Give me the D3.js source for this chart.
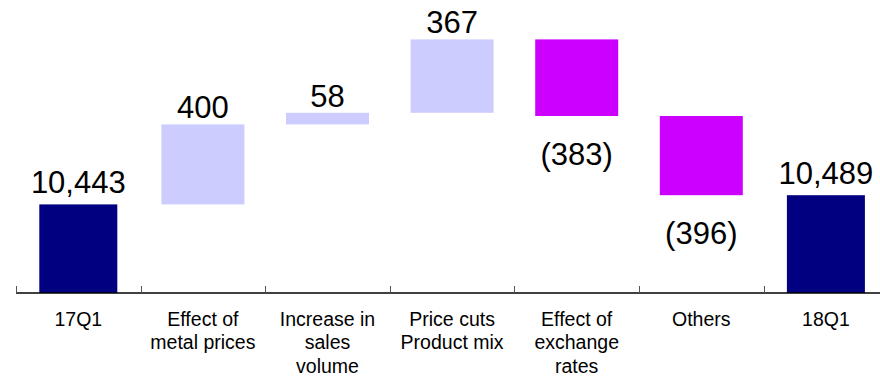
<!DOCTYPE html>
<html>
<head>
<meta charset="utf-8">
<script src="https://cdn.jsdelivr.net/npm/d3@7/dist/d3.min.js"></script>
<style>
  html, body { margin: 0; padding: 0; background: #ffffff; }
  svg { display: block; font-family: "Liberation Sans", Arial, sans-serif; }
</style>
</head>
<body>
<svg id="chart" width="880" height="377"></svg>
<script>
// Quarter-on-quarter bridge: opening total, changes, closing total
const categories = [
  ["17Q1"],
  ["Effect of", "metal prices"],
  ["Increase in", "sales", "volume"],
  ["Price cuts", "Product mix"],
  ["Effect of", "exchange", "rates"],
  ["Others"],
  ["18Q1"]
];
const values = [10443, 400, 58, 367, -383, -396, 10489];
const kinds = ["total", "change", "change", "change", "change", "change", "total"];
const yDomain = [10000, 11465];

const colors = { total: "#000080", up: "#CCCCFF", down: "#CC00FF" };

const svg = d3.select("#chart");
const axisY = 293;

const x = d3.scaleBand()
  .domain(d3.range(categories.length))
  .range([16, 16 + 7 * 124.6])
  .paddingInner(0).paddingOuter(0);

const y = d3.scaleLinear().domain(yDomain).range([axisY, 0]);

// Running levels for the floating bars
let level = 0;
const bars = values.map((v, i) => {
  let lo, hi;
  if (kinds[i] === "total") { lo = yDomain[0]; hi = v; level = v; }
  else { const start = level; level += v; lo = Math.min(start, level); hi = Math.max(start, level); }
  return { i, v, kind: kinds[i], lo, hi };
});

const fmt = d3.format(",");
const bw = x.bandwidth();

svg.append("g").selectAll("rect")
  .data(bars)
  .join("rect")
  .attr("x", d => x(d.i) + bw / 2 - (d.kind === "total" ? 0.626 : 0.666) * bw / 2)
  .attr("width", d => (d.kind === "total" ? 0.626 : 0.666) * bw)
  .attr("y", d => y(d.hi))
  .attr("height", d => y(d.lo) - y(d.hi))
  .attr("fill", d => d.kind === "total" ? colors.total : (d.v >= 0 ? colors.up : colors.down));

// Value labels
svg.append("g").selectAll("text")
  .data(bars)
  .join("text")
  .attr("x", d => x(d.i) + bw / 2)
  .attr("y", d => {
    if (d.kind === "total") return y(d.hi) - 11;
    if (d.v >= 0) return y(d.hi) - 6;
    return y(d.lo) + 49;
  })
  .attr("text-anchor", "middle")
  .attr("font-size", 31)
  .attr("fill", "#000")
  .text(d => d.kind === "total" ? fmt(d.v) : (d.v < 0 ? "(" + fmt(-d.v) + ")" : fmt(d.v)));

// Category axis with upward ticks at band edges
const axis = svg.append("g");
axis.append("line")
  .attr("x1", 16).attr("x2", 880)
  .attr("y1", axisY).attr("y2", axisY)
  .attr("stroke", "#000").attr("stroke-width", 1.3);
axis.selectAll("line.tick")
  .data(d3.range(categories.length))
  .join("line")
  .attr("class", "tick")
  .attr("x1", i => Math.round(x(i)) + 0.5).attr("x2", i => Math.round(x(i)) + 0.5)
  .attr("y1", axisY).attr("y2", axisY - 7)
  .attr("stroke", "#555").attr("stroke-width", 1);

const labels = axis.selectAll("text")
  .data(categories)
  .join("text")
  .attr("x", (d, i) => x(i) + bw / 2)
  .attr("y", axisY + 33)
  .attr("text-anchor", "middle")
  .attr("font-size", 19.5)
  .attr("fill", "#000");
labels.selectAll("tspan")
  .data(d => d)
  .join("tspan")
  .attr("x", function () { return d3.select(this.parentNode).attr("x"); })
  .attr("dy", (d, j) => j === 0 ? 0 : 23.3)
  .text(d => d);
</script>
</body>
</html>
